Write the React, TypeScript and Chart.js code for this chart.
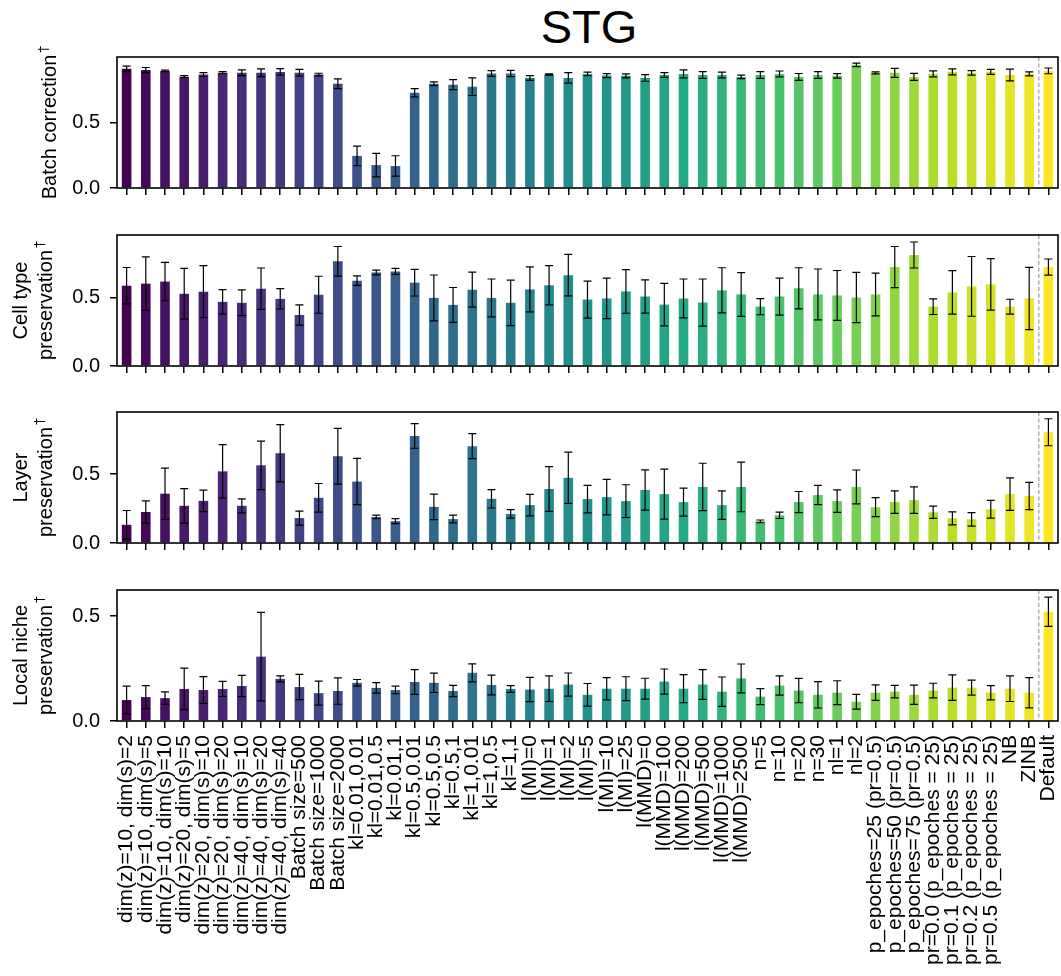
import React, { useEffect, useRef } from "react";
import { Chart, registerables } from "chart.js";

Chart.register(...registerables);

// ---------------- data ----------------
const title = "STG";

const categories = [
  "dim(z)=10, dim(s)=2", "dim(z)=10, dim(s)=5", "dim(z)=10, dim(s)=10",
  "dim(z)=20, dim(s)=5", "dim(z)=20, dim(s)=10", "dim(z)=20, dim(s)=20",
  "dim(z)=40, dim(s)=10", "dim(z)=40, dim(s)=20", "dim(z)=40, dim(s)=40",
  "Batch size=500", "Batch size=1000", "Batch size=2000",
  "kl=0.01,0.01", "kl=0.01,0.5", "kl=0.01,1", "kl=0.5,0.01", "kl=0.5,0.5", "kl=0.5,1",
  "kl=1,0.01", "kl=1,0.5", "kl=1,1",
  "l(MI)=0", "l(MI)=1", "l(MI)=2", "l(MI)=5", "l(MI)=10", "l(MI)=25",
  "l(MMD)=0", "l(MMD)=100", "l(MMD)=200", "l(MMD)=500", "l(MMD)=1000", "l(MMD)=2500",
  "n=5", "n=10", "n=20", "n=30", "nl=1", "nl=2",
  "p_epoches=25 (pr=0.5)", "p_epoches=50 (pr=0.5)", "p_epoches=75 (pr=0.5)",
  "pr=0.0 (p_epoches = 25)", "pr=0.1 (p_epoches = 25)", "pr=0.2 (p_epoches = 25)", "pr=0.5 (p_epoches = 25)",
  "NB", "ZINB", "Default",
];

const batchCorrection = [
  0.91, 0.90, 0.894, 0.85, 0.866, 0.88, 0.88, 0.88, 0.886, 0.88,
  0.866, 0.796, 0.245, 0.175, 0.168, 0.727, 0.796, 0.789, 0.773, 0.874,
  0.874, 0.84, 0.866, 0.84, 0.871, 0.858, 0.856, 0.84, 0.863, 0.871,
  0.863, 0.863, 0.848, 0.863, 0.871, 0.848, 0.863, 0.856, 0.94, 0.879,
  0.879, 0.848, 0.871, 0.887, 0.879, 0.887, 0.863, 0.871, 0.894,
];
const batchCorrectionErr = [
  0.02, 0.02, 0.006, 0.008, 0.015, 0.008, 0.022, 0.03, 0.025, 0.025,
  0.01, 0.037, 0.075, 0.09, 0.078, 0.032, 0.014, 0.038, 0.067, 0.022,
  0.024, 0.018, 0.005, 0.04, 0.014, 0.015, 0.015, 0.025, 0.018, 0.03,
  0.026, 0.022, 0.013, 0.026, 0.022, 0.026, 0.026, 0.017, 0.013, 0.008,
  0.034, 0.027, 0.023, 0.023, 0.017, 0.019, 0.045, 0.015, 0.022,
];

const cellType = [
  0.586, 0.601, 0.616, 0.527, 0.542, 0.468, 0.461, 0.564, 0.49, 0.372,
  0.52, 0.764, 0.623, 0.682, 0.69, 0.608, 0.497, 0.446, 0.557, 0.497,
  0.461, 0.559, 0.589, 0.663, 0.485, 0.493, 0.544, 0.507, 0.448, 0.493,
  0.463, 0.552, 0.522, 0.433, 0.507, 0.567, 0.522, 0.515, 0.5, 0.522,
  0.722, 0.81, 0.433, 0.537, 0.581, 0.596, 0.433, 0.493, 0.722,
];
const cellTypeErr = [
  0.133, 0.195, 0.14, 0.185, 0.19, 0.09, 0.094, 0.151, 0.074, 0.074,
  0.135, 0.108, 0.034, 0.017, 0.022, 0.097, 0.167, 0.127, 0.128, 0.138,
  0.166, 0.164, 0.143, 0.151, 0.135, 0.148, 0.159, 0.121, 0.155, 0.142,
  0.172, 0.165, 0.16, 0.059, 0.135, 0.15, 0.186, 0.182, 0.183, 0.156,
  0.15, 0.095, 0.057, 0.159, 0.218, 0.188, 0.054, 0.227, 0.059,
];

const layer = [
  0.132, 0.225, 0.358, 0.27, 0.306, 0.52, 0.27, 0.564, 0.652, 0.181,
  0.328, 0.63, 0.446, 0.189, 0.159, 0.777, 0.262, 0.174, 0.703, 0.321,
  0.211, 0.275, 0.392, 0.473, 0.319, 0.333, 0.304, 0.385, 0.355, 0.297,
  0.407, 0.275, 0.407, 0.157, 0.201, 0.297, 0.348, 0.304, 0.407, 0.26,
  0.297, 0.311, 0.223, 0.179, 0.172, 0.245, 0.355, 0.341, 0.804,
];
const layerErr = [
  0.104, 0.081, 0.186, 0.125, 0.078, 0.194, 0.051, 0.176, 0.208, 0.051,
  0.104, 0.202, 0.168, 0.013, 0.018, 0.089, 0.093, 0.028, 0.091, 0.067,
  0.031, 0.078, 0.163, 0.186, 0.1, 0.129, 0.119, 0.146, 0.181, 0.102,
  0.172, 0.104, 0.18, 0.01, 0.023, 0.077, 0.07, 0.081, 0.123, 0.069,
  0.082, 0.096, 0.044, 0.047, 0.049, 0.064, 0.118, 0.099, 0.098,
];

const localNiche = [
  0.1, 0.114, 0.109, 0.153, 0.148, 0.153, 0.167, 0.307, 0.201, 0.162,
  0.133, 0.143, 0.182, 0.158, 0.148, 0.186, 0.182, 0.143, 0.23, 0.172,
  0.153, 0.15, 0.154, 0.174, 0.125, 0.154, 0.154, 0.154, 0.188, 0.154,
  0.174, 0.14, 0.203, 0.116, 0.169, 0.145, 0.125, 0.135, 0.092, 0.135,
  0.14, 0.125, 0.145, 0.159, 0.159, 0.135, 0.154, 0.135, 0.521,
];
const localNicheErr = [
  0.066, 0.055, 0.03, 0.099, 0.064, 0.036, 0.051, 0.211, 0.014, 0.06,
  0.057, 0.063, 0.016, 0.025, 0.018, 0.059, 0.046, 0.027, 0.043, 0.047,
  0.016, 0.058, 0.061, 0.055, 0.054, 0.053, 0.057, 0.05, 0.06, 0.067,
  0.071, 0.07, 0.069, 0.038, 0.046, 0.058, 0.063, 0.057, 0.035, 0.037,
  0.03, 0.046, 0.035, 0.061, 0.036, 0.034, 0.061, 0.072, 0.07,
];

const yTickValues = [0, 0.5];
const yMaxes = [1.0, 0.956, 0.951, 0.625];
const yLabels = [
  ["Batch correction"],
  ["Cell type", "preservation"],
  ["Layer", "preservation"],
  ["Local niche", "preservation"],
];

// ---------------- styling ----------------
const FONT = '"Liberation Sans", Arial, Helvetica, sans-serif';
const W = 1061;
const PANEL_TOPS = [57, 235, 412, 590];
const PANEL_H = 131;
const PAD_TOP = 14;
const AXIS_LEFT = 117;
const PAD_RIGHT = 3;

const VIRIDIS = [
  "#440154", "#482475", "#414487", "#355f8d", "#2a788e", "#21918c",
  "#22a884", "#44bf70", "#7ad151", "#bddf26", "#fde725",
];
function hexToRgb(h: string) {
  return [parseInt(h.slice(1, 3), 16), parseInt(h.slice(3, 5), 16), parseInt(h.slice(5, 7), 16)];
}
function viridis(t: number) {
  const p = t * (VIRIDIS.length - 1);
  const i = Math.min(Math.floor(p), VIRIDIS.length - 2);
  const f = p - i;
  const a = hexToRgb(VIRIDIS[i]);
  const b = hexToRgb(VIRIDIS[i + 1]);
  const c = a.map((v, k) => Math.round(v + (b[k] - v) * f));
  return `rgb(${c[0]},${c[1]},${c[2]})`;
}
const barColors = categories.map((_, i) => viridis(i / (categories.length - 1)));

type PanelCfg = {
  values: number[];
  errs: number[];
  max: number;
  label: string[];
  showX: boolean;
};

const panels: PanelCfg[] = [
  { values: batchCorrection, errs: batchCorrectionErr, max: yMaxes[0], label: yLabels[0], showX: false },
  { values: cellType, errs: cellTypeErr, max: yMaxes[1], label: yLabels[1], showX: false },
  { values: layer, errs: layerErr, max: yMaxes[2], label: yLabels[2], showX: false },
  { values: localNiche, errs: localNicheErr, max: yMaxes[3], label: yLabels[3], showX: true },
];

function zeroPad(s: any) {
  s.paddingTop = 0;
  s.paddingBottom = 0;
  s.paddingLeft = 0;
  s.paddingRight = 0;
}

function makePlugin(cfg: PanelCfg) {
  return {
    id: "decor",
    afterDatasetsDraw(chart: any) {
      const { ctx, chartArea: a } = chart;
      const x = chart.scales.x;
      const y = chart.scales.y;
      ctx.save();
      // error bars
      ctx.strokeStyle = "#000";
      ctx.lineWidth = 1.2;
      cfg.values.forEach((v, i) => {
        const px = x.getPixelForValue(i);
        const y1 = y.getPixelForValue(v - cfg.errs[i]);
        const y2 = y.getPixelForValue(v + cfg.errs[i]);
        ctx.beginPath();
        ctx.moveTo(px, y1);
        ctx.lineTo(px, y2);
        ctx.moveTo(px - 4, y1);
        ctx.lineTo(px + 4, y1);
        ctx.moveTo(px - 4, y2);
        ctx.lineTo(px + 4, y2);
        ctx.stroke();
      });
      // dashed separator before Default
      const n = categories.length;
      const dx = (x.getPixelForValue(n - 2) + x.getPixelForValue(n - 1)) / 2;
      ctx.setLineDash([4, 2.5]);
      ctx.strokeStyle = "#b0b0b0";
      ctx.lineWidth = 1.5;
      ctx.beginPath();
      ctx.moveTo(dx, a.top);
      ctx.lineTo(dx, a.bottom);
      ctx.stroke();
      ctx.setLineDash([]);
      // frame
      ctx.strokeStyle = "#000";
      ctx.lineWidth = 1.6;
      ctx.strokeRect(a.left, a.top, a.right - a.left, a.bottom - a.top);
      ctx.restore();
    },
    afterDraw(chart: any) {
      const { ctx, chartArea: a } = chart;
      const x = chart.scales.x;
      ctx.save();
      ctx.fillStyle = "#000";
      // y-axis label (rotated), last line carries a superscript dagger
      const cy = (a.top + a.bottom) / 2;
      const lines = cfg.label;
      const lastBase = lines.length === 1 ? 56 : 51.5;
      const gap = 25;
      lines.forEach((line, k) => {
        const bx = lastBase - gap * (lines.length - 1 - k);
        const isLast = k === lines.length - 1;
        ctx.save();
        ctx.translate(bx, cy);
        ctx.rotate(-Math.PI / 2);
        ctx.font = `20px ${FONT}`;
        const w = ctx.measureText(line).width;
        ctx.font = `14px "DejaVu Sans", sans-serif`;
        const dw = isLast ? ctx.measureText("\u2020").width + 2 : 0;
        const start = -(w + dw) / 2;
        ctx.font = `20px ${FONT}`;
        ctx.textAlign = "left";
        ctx.textBaseline = "alphabetic";
        ctx.fillText(line, start, 0);
        if (isLast) {
          ctx.font = `14px "DejaVu Sans", sans-serif`;
          ctx.fillText("\u2020", start + w + 2, -8);
        }
        ctx.restore();
      });
      // x tick labels (only on the bottom panel)
      if (cfg.showX) {
        ctx.font = `21px ${FONT}`;
        ctx.textAlign = "right";
        ctx.textBaseline = "middle";
        const labels: string[] = chart.data.labels;
        labels.forEach((lab, i) => {
          const px = x.getPixelForValue(i);
          ctx.save();
          ctx.translate(px, a.bottom + 14);
          ctx.rotate(-Math.PI / 2);
          ctx.fillText(lab, 0, 0);
          ctx.restore();
        });
      }
      ctx.restore();
    },
  };
}

function Panel({ cfg, top, height }: { cfg: PanelCfg; top: number; height: number }) {
  const ref = useRef<HTMLCanvasElement | null>(null);
  useEffect(() => {
    if (!ref.current) return;
    const xh = height - PAD_TOP - PANEL_H;
    const chart = new Chart(ref.current, {
      type: "bar",
      data: {
        labels: categories,
        datasets: [
          {
            data: cfg.values,
            backgroundColor: barColors,
            borderWidth: 0,
            barPercentage: 0.5,
            categoryPercentage: 1,
          },
        ],
      },
      options: {
        animation: false,
        responsive: false,
        maintainAspectRatio: false,
        devicePixelRatio: 1,
        layout: { autoPadding: false, padding: { top: PAD_TOP, right: PAD_RIGHT, left: 0, bottom: 0 } },
        plugins: { legend: { display: false }, tooltip: { enabled: false } },
        scales: {
          x: {
            type: "category",
            offset: true,
            grid: {
              display: true,
              offset: false,
              drawOnChartArea: false,
              drawTicks: true,
              tickLength: 7,
              color: "#000",
              lineWidth: 1.5,
            },
            border: { display: false },
            ticks: { display: false, autoSkip: false },
            afterFit: (s: any) => {
              s.height = xh;
              zeroPad(s);
            },
          },
          y: {
            type: "linear",
            min: 0,
            max: cfg.max,
            grid: {
              display: true,
              drawOnChartArea: false,
              drawTicks: true,
              tickLength: 7,
              color: "#000",
              lineWidth: 1.5,
            },
            border: { display: false },
            afterBuildTicks: (s: any) => {
              s.ticks = yTickValues.map((v) => ({ value: v }));
            },
            ticks: {
              color: "#000",
              padding: 10,
              font: { family: FONT, size: 20 },
              callback: (v: any) => Number(v).toFixed(1),
            },
            afterFit: (s: any) => {
              s.width = AXIS_LEFT;
              zeroPad(s);
            },
          },
        },
      },
      plugins: [makePlugin(cfg)],
    } as any);
    return () => chart.destroy();
  }, [cfg, height]);
  return (
    <canvas
      ref={ref}
      width={W}
      height={height}
      style={{ position: "absolute", left: 0, top, width: W, height }}
    />
  );
}

export default function App() {
  return (
    <div
      style={{
        position: "fixed",
        left: 0,
        top: 0,
        width: W,
        height: 976,
        background: "#fff",
        overflow: "hidden",
      }}
    >
      <div
        style={{
          position: "absolute",
          left: 0,
          width: 1178,
          top: 0,
          textAlign: "center",
          fontFamily: FONT,
          fontSize: 47,
          lineHeight: "54px",
          color: "#000",
        }}
      >
        {title}
      </div>
      {panels.map((p, i) => {
        const top = PANEL_TOPS[i] - PAD_TOP;
        const height = i === panels.length - 1 ? 976 - top : PAD_TOP + PANEL_H + 12;
        return <Panel key={i} cfg={p} top={top} height={height} />;
      })}
    </div>
  );
}
